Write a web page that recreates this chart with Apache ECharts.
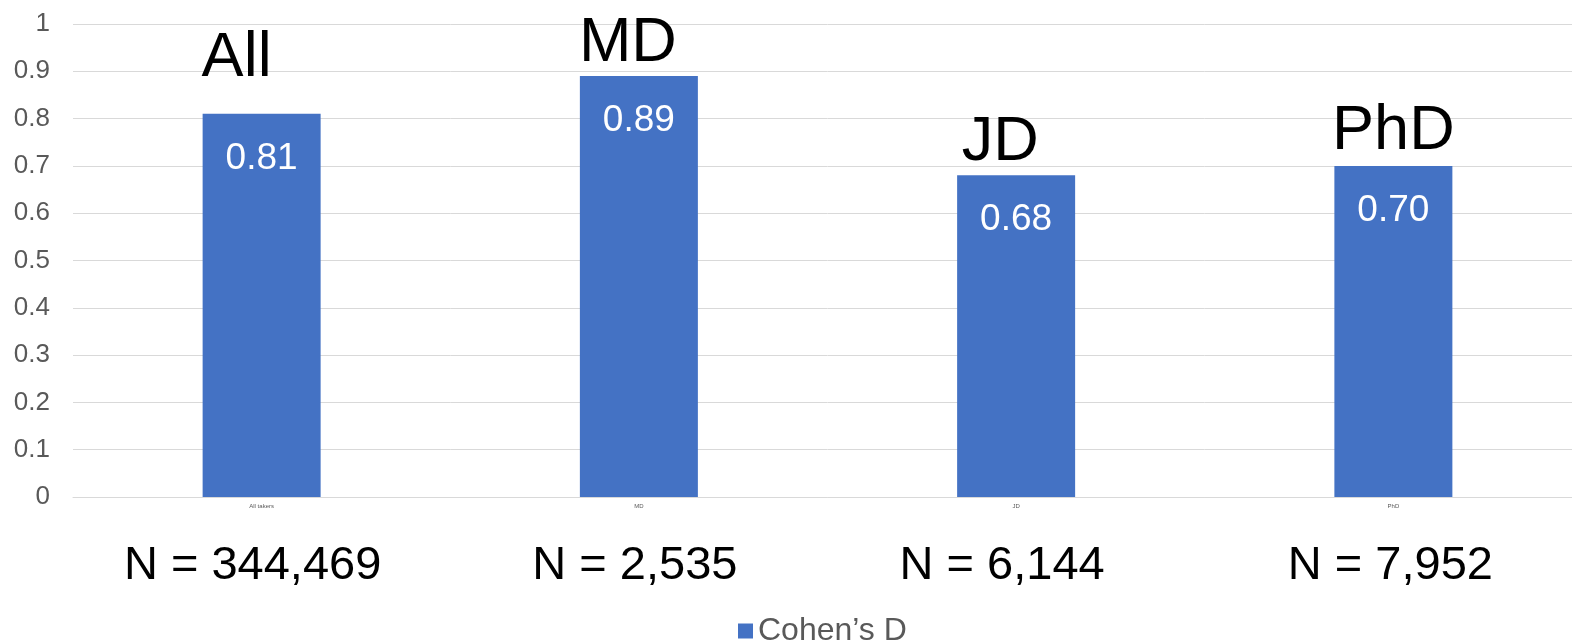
<!DOCTYPE html>
<html>
<head>
<meta charset="utf-8">
<script src="https://cdn.jsdelivr.net/npm/echarts@6/dist/echarts.min.js"></script>
<style>html,body{margin:0;padding:0;background:#fff;overflow:hidden}#c{width:1582px;height:642px}</style>
</head>
<body>
<div id="c"></div>
<script>
const categories = ['All takers', 'MD', 'JD', 'PhD'];
const groupLabels = ['All', 'MD', 'JD', 'PhD'];
const cohensD = [0.81, 0.89, 0.68, 0.70];
const sampleSizes = ['N = 344,469', 'N = 2,535', 'N = 6,144', 'N = 7,952'];
const yTicks = [0, 0.1, 0.2, 0.3, 0.4, 0.5, 0.6, 0.7, 0.8, 0.9, 1];

const groupOffsets = [[-25, -24], [-11, -1], [-16, -1], [0, -3]];
const nPads = [18, 8, 28, 6];

const chart = echarts.init(document.getElementById('c'));
chart.setOption({
  animation: false,
  textStyle: { fontFamily: 'Liberation Sans, Arial, sans-serif' },
  grid: { left: 73, right: 0, top: 24, bottom: 145, containLabel: false },
  legend: {
    data: ["Cohen’s D"],
    left: 733, top: 610,
    itemWidth: 15, itemHeight: 15, itemGap: 10,
    icon: 'rect',
    textStyle: { fontSize: 32, color: '#595959', fontFamily: 'Liberation Sans' }
  },
  xAxis: [{
    type: 'category', data: categories,
    axisLine: { lineStyle: { color: '#d9d9d9' } },
    axisTick: { show: false },
    axisLabel: { fontSize: 6, color: '#595959', margin: 6 }
  }, {
    type: 'category', data: sampleSizes.map((s, i) => ({ value: s, textStyle: { padding: [0, nPads[i], 0, 0] } })),
    position: 'bottom', offset: 0,
    axisLine: { show: false }, axisTick: { show: false },
    axisLabel: { fontSize: 47, color: '#000', margin: 46, fontFamily: 'Liberation Sans' }
  }],
  yAxis: {
    type: 'value', min: 0, max: 1, interval: 0.1,
    axisLine: { show: false }, axisTick: { show: false },
    splitLine: { lineStyle: { color: '#d9d9d9' } },
    axisLabel: { fontSize: 26, color: '#595959', margin: 23,
      formatter: v => { const t = yTicks.find(x => Math.abs(x - v) < 1e-9); return String(t); } }
  },
  series: [{
    name: "Cohen’s D", type: 'bar', barWidth: 118, barGap: '-100%',
    data: cohensD,
    itemStyle: { color: '#4472C4' },
    label: { show: true, position: 'insideTop', distance: 26, color: '#fff', fontSize: 37,
      fontFamily: 'Liberation Sans', formatter: p => p.value.toFixed(2) }
  }, {
    name: 'groups', type: 'bar', barWidth: 118, barGap: '-100%', silent: true,
    data: cohensD.map((v, i) => ({ value: v, label: { offset: groupOffsets[i] } })),
    itemStyle: { color: 'rgba(0,0,0,0)' },
    label: { show: true, position: 'top', distance: 0, color: '#000', fontSize: 63,
      fontFamily: 'Liberation Sans', formatter: p => groupLabels[p.dataIndex] }
  }]
});
</script>
</body>
</html>
